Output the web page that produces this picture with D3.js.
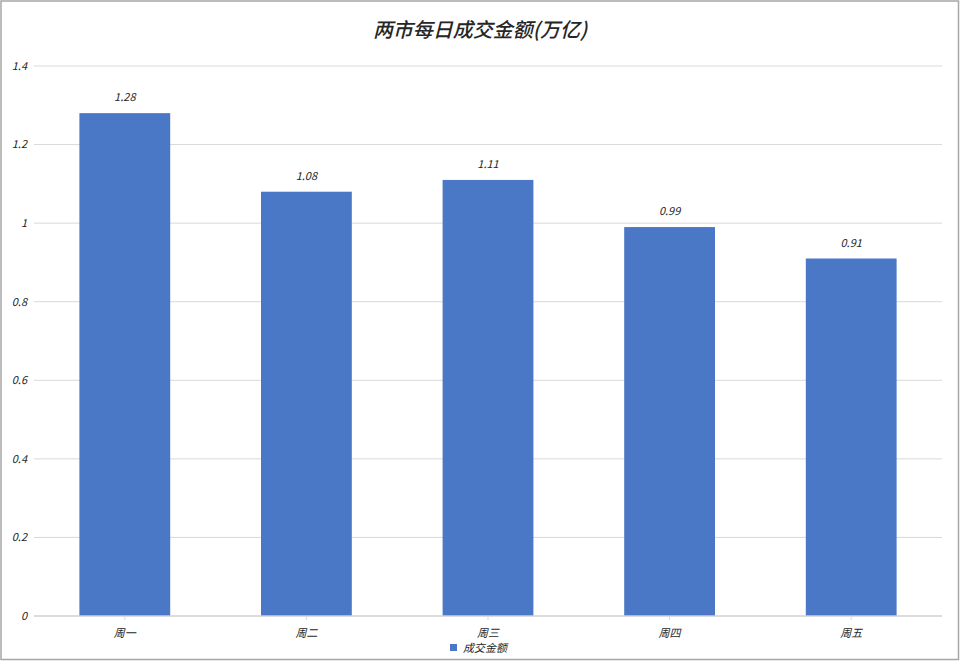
<!DOCTYPE html>
<html><head><meta charset="utf-8">
<script src="https://cdn.jsdelivr.net/npm/d3@7"></script>
<style>
html,body{margin:0;padding:0;background:#fff;}
svg text{font-family:"Noto Sans CJK SC","Noto Sans",sans-serif;font-style:italic;}
</style></head>
<body>
<svg id="c" width="960" height="661"></svg>
<script>
const categories = ["周一","周二","周三","周四","周五"];
const values = [1.28, 1.08, 1.11, 0.99, 0.91];
const yTicks = [0, 0.2, 0.4, 0.6, 0.8, 1, 1.2, 1.4];
const title = "两市每日成交金额(万亿)";
const seriesName = "成交金额";

const svg = d3.select("#c");
const W = 960, H = 661;
const m = {left: 34, right: 18, top: 66, bottom: 45};

svg.append("rect").attr("x",1).attr("y",1).attr("width",W-2.5).attr("height",H-2.5)
  .attr("fill","#fff").attr("stroke","#a6a6a6").attr("stroke-width",1.5);

const x = d3.scaleBand().domain(categories).range([m.left, W - m.right]).paddingInner(0.5).paddingOuter(0.25);
const y = d3.scaleLinear().domain([0, 1.4]).range([H - m.bottom, m.top]);

svg.append("g").selectAll("line").data(yTicks.filter(d=>d>0)).join("line")
  .attr("x1", m.left).attr("x2", W - m.right)
  .attr("y1", d=>y(d)).attr("y2", d=>y(d))
  .attr("stroke","#d9d9d9").attr("stroke-width",1);

svg.append("g").selectAll("text").data(yTicks).join("text")
  .attr("x", 27).attr("y", d=>y(d)).attr("dy","0.35em")
  .attr("text-anchor","end").attr("font-size",11).attr("fill","#262626")
  .text(d=>d3.format("~g")(d));

svg.append("g").selectAll("rect").data(values).join("rect")
  .attr("x",(d,i)=>x(categories[i])).attr("width",x.bandwidth())
  .attr("y",d=>y(d)).attr("height",d=>y(0)-y(d))
  .attr("fill","#4a78c6");

svg.append("g").selectAll("text").data(values).join("text")
  .attr("x",(d,i)=>x(categories[i])+x.bandwidth()/2).attr("y",d=>y(d)-12)
  .attr("text-anchor","middle").attr("font-size",11).attr("fill","#262626")
  .text(d=>d3.format(".2f")(d));

const xa = svg.append("g").attr("transform",`translate(0,${y(0)})`)
  .call(d3.axisBottom(x).tickSize(4).tickSizeOuter(0));
xa.select(".domain").attr("stroke","#d0d0d0").attr("stroke-width",1.5).attr("d",`M${m.left},0H${W-m.right}`);
xa.selectAll(".tick line").attr("stroke","#d9d9d9");
xa.selectAll(".tick text").attr("font-size",11).attr("fill","#262626").attr("dy","1.3em");

svg.append("text").attr("x",W/2).attr("y",37).attr("text-anchor","middle")
  .attr("font-size",20).attr("font-weight",500).attr("fill","#262626").text(title);

const lg = svg.append("g").attr("transform","translate(450,648)");
lg.append("rect").attr("x",0).attr("y",-4).attr("width",7).attr("height",7).attr("fill","#4a78c6");
lg.append("text").attr("x",13).attr("y",0).attr("dy","0.35em").attr("font-size",11).attr("fill","#262626").text(seriesName);
</script>
</body></html>
